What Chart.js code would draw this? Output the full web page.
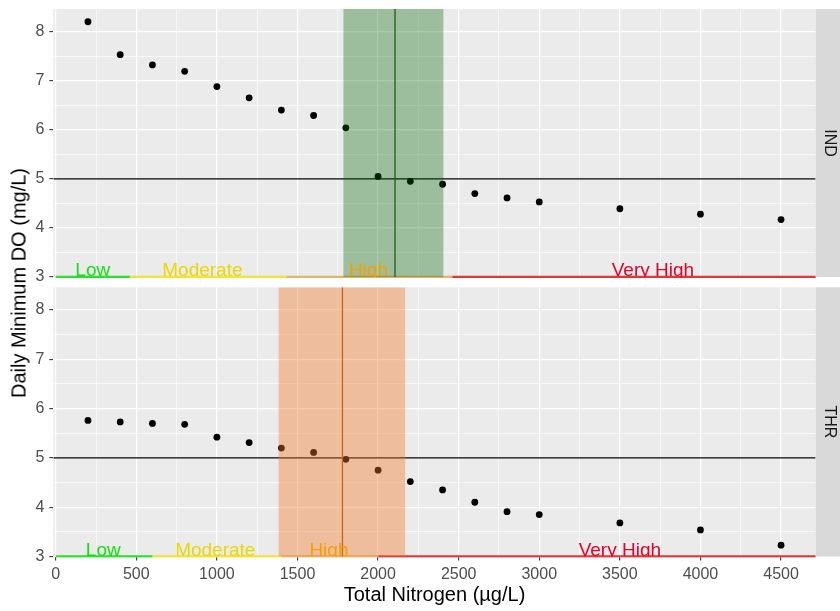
<!DOCTYPE html>
<html>
<head>
<meta charset="utf-8">
<title>Daily minimum DO vs total nitrogen</title>
<script src="https://cdn.jsdelivr.net/npm/chart.js@4.4.1/dist/chart.umd.min.js"></script>
<style>
  body { margin: 0; background: #fff; }
  #wrap { position: relative; width: 840px; height: 611px; }
  canvas { position: absolute; left: 0; }
  #topChart { top: 0; }
  #bottomChart { top: 282px; }
  #ytitle {
    position: absolute; left: 19px; top: 283px;
    transform: translate(-50%, -50%) rotate(-90deg);
    font: 20px "Liberation Sans", Arial, sans-serif;
    white-space: nowrap; color: #000;
  }
</style>
</head>
<body>
<div id="wrap">
  <canvas id="topChart" width="840" height="282"></canvas>
  <canvas id="bottomChart" width="840" height="329"></canvas>
  <div id="ytitle">Daily Minimum DO (mg/L)</div>
</div>
<script>
// total nitrogen levels (ug/L)
const nitrogen = [200, 400, 600, 800, 1000, 1200, 1400, 1600, 1800, 2000, 2200, 2400, 2600, 2800, 3000, 3500, 4000, 4500];
// daily minimum DO (mg/L) per site
const doInd = [8.20, 7.53, 7.32, 7.19, 6.88, 6.65, 6.40, 6.29, 6.04, 5.05, 4.95, 4.89, 4.70, 4.61, 4.53, 4.39, 4.28, 4.17];
const doThr = [5.76, 5.73, 5.70, 5.68, 5.42, 5.31, 5.20, 5.11, 4.97, 4.75, 4.52, 4.35, 4.10, 3.91, 3.85, 3.68, 3.54, 3.23];

const doStandard = 5;

// nitrogen class limits and where each class name sits
const classNames = ['Low', 'Moderate', 'High', 'Very High'];
const indBreaks = [0, 460, 1430, 2460, 4950];
const thrBreaks = [0, 600, 1400, 2000, 5000];
const indLabelAt = [230, 910, 1940, 3705];
const thrLabelAt = [295, 990, 1695, 3500];

// nitrogen range and estimate where DO crosses the standard
const indRange = [1785, 2405];
const indCross = 2105;
const thrRange = [1383, 2168];
const thrCross = 1779;

const xTickLabels = [0, 500, 1000, 1500, 2000, 2500, 3000, 3500, 4000, 4500];
const yTickLabels = [3, 4, 5, 6, 7, 8];
const xMin = -15, xMax = 4715;
const yMin = 3, yMax = 8.46;

const classText = ['#14e014', '#ead800', '#f5a000', '#e6002a'];
const classLine = ['#2ede2e', '#f2e23a', '#e2b46e', '#dc3a3a'];

Chart.defaults.font.family = '"Liberation Sans", Arial, sans-serif';

// majors plus the minor lines halfway between them
function withMinors(majors) {
  const out = [];
  majors.forEach((v, i) => {
    out.push(v);
    if (i < majors.length - 1) out.push((v + majors[i + 1]) / 2);
  });
  return out;
}
const xGrid = withMinors(xTickLabels);
const yGrid = withMinors(yTickLabels);

function panelPlugin(cfg) {
  return {
    id: 'panel',
    beforeDraw(chart) {
      const { ctx, chartArea: a } = chart;
      ctx.save();
      ctx.fillStyle = '#EBEBEB';
      ctx.fillRect(a.left, a.top, a.width, a.height);
      ctx.restore();
    },
    afterDatasetsDraw(chart) {
      const { ctx, chartArea: a, scales: { x, y } } = chart;
      ctx.save();
      ctx.beginPath();
      ctx.rect(a.left, a.top, a.width, a.height);
      ctx.clip();

      const x0 = x.getPixelForValue(cfg.range[0]);
      const x1 = x.getPixelForValue(cfg.range[1]);
      ctx.fillStyle = cfg.fill;
      ctx.fillRect(x0, a.top, x1 - x0, a.height);

      const xc = x.getPixelForValue(cfg.cross);
      ctx.strokeStyle = cfg.line;
      ctx.lineWidth = 1.3;
      ctx.beginPath();
      ctx.moveTo(xc, a.top);
      ctx.lineTo(xc, a.bottom);
      ctx.stroke();

      ctx.font = '19px "Liberation Sans", Arial, sans-serif';
      ctx.textAlign = 'center';
      ctx.textBaseline = 'alphabetic';
      const yb = y.getPixelForValue(yMin) - 1;
      cfg.labelAt.forEach((v, i) => {
        ctx.fillStyle = classText[i];
        ctx.fillText(classNames[i], x.getPixelForValue(v), yb);
      });
      ctx.restore();
    },
    afterDraw(chart) {
      const { ctx, chartArea: a } = chart;
      ctx.save();
      ctx.fillStyle = '#D9D9D9';
      ctx.fillRect(a.right, a.top, chart.width - a.right, a.height);
      ctx.translate(a.right + 13.5, (a.top + a.bottom) / 2);
      ctx.rotate(Math.PI / 2);
      ctx.fillStyle = '#1A1A1A';
      ctx.font = '16px "Liberation Sans", Arial, sans-serif';
      ctx.textAlign = 'center';
      ctx.textBaseline = 'middle';
      ctx.fillText(cfg.strip, 0, 0);
      ctx.restore();
    }
  };
}

function buildDatasets(values, breaks) {
  const sets = [{
    data: nitrogen.map((n, i) => ({ x: n, y: values[i] })),
    pointRadius: 3.4,
    pointBackgroundColor: '#000',
    pointBorderWidth: 0
  }, {
    data: [{ x: xMin, y: doStandard }, { x: xMax, y: doStandard }],
    showLine: true,
    borderColor: '#000',
    borderWidth: 1.2,
    pointRadius: 0
  }];
  classNames.forEach((name, i) => {
    sets.push({
      data: [{ x: breaks[i], y: yMin }, { x: breaks[i + 1], y: yMin }],
      showLine: true,
      borderColor: classLine[i],
      borderWidth: 2.4,
      pointRadius: 0,
      clip: { left: 0, top: 0, right: 0, bottom: 1 }
    });
  });
  return sets;
}

const tickFont = { size: 16 };
const isMajor = (list, v) => list.includes(v);

function buildScales(showX) {
  return {
    x: {
      type: 'linear',
      min: xMin,
      max: xMax,
      afterBuildTicks: s => { s.ticks = xGrid.map(v => ({ value: v })); },
      afterFit: s => {
        s.height = showX ? 54.5 : 0;
        s.paddingLeft = 0;
        s.paddingRight = 0;
      },
      border: { display: false },
      grid: {
        color: '#FFFFFF',
        lineWidth: c => (c.tick && isMajor(xTickLabels, c.tick.value)) ? 1.2 : 0.6,
        drawTicks: showX,
        tickLength: 4,
        tickWidth: 1.1,
        tickColor: c => (c.tick && isMajor(xTickLabels, c.tick.value)) ? '#333333' : 'rgba(0,0,0,0)'
      },
      ticks: {
        display: showX,
        autoSkip: false,
        maxRotation: 0,
        padding: 4,
        color: '#4D4D4D',
        font: tickFont,
        callback: v => isMajor(xTickLabels, v) ? String(v) : ''
      },
      title: {
        display: showX,
        text: 'Total Nitrogen (µg/L)',
        color: '#000',
        font: { size: 20 },
        padding: { top: 0, bottom: 4 }
      }
    },
    y: {
      type: 'linear',
      min: yMin,
      max: yMax,
      afterBuildTicks: s => { s.ticks = yGrid.map(v => ({ value: v })); },
      afterFit: s => {
        s.width = 53.3;
        s.paddingTop = 0;
        s.paddingBottom = 0;
      },
      border: { display: false },
      grid: {
        color: '#FFFFFF',
        lineWidth: c => (c.tick && isMajor(yTickLabels, c.tick.value)) ? 1.2 : 0.6,
        tickLength: 4,
        tickWidth: 1.1,
        tickColor: c => (c.tick && isMajor(yTickLabels, c.tick.value)) ? '#333333' : 'rgba(0,0,0,0)'
      },
      ticks: {
        autoSkip: false,
        padding: 5,
        color: '#4D4D4D',
        font: tickFont,
        callback: v => isMajor(yTickLabels, v) ? String(v) : ''
      }
    }
  };
}

function makePanel(id, values, breaks, cfg, showX, pad) {
  return new Chart(document.getElementById(id), {
    type: 'scatter',
    data: { datasets: buildDatasets(values, breaks) },
    options: {
      responsive: false,
      animation: false,
      layout: { padding: pad },
      plugins: { legend: { display: false }, tooltip: { enabled: false } },
      scales: buildScales(showX)
    },
    plugins: [panelPlugin(cfg)]
  });
}

makePanel('topChart', doInd, indBreaks, {
  range: indRange, cross: indCross, labelAt: indLabelAt, strip: 'IND',
  fill: 'rgba(0,100,0,0.33)', line: '#1c5c1c'
}, false, { top: 9, bottom: 5, left: 0, right: 24.3 });

makePanel('bottomChart', doThr, thrBreaks, {
  range: thrRange, cross: thrCross, labelAt: thrLabelAt, strip: 'THR',
  fill: 'rgba(240,120,40,0.4)', line: '#cc6420'
}, true, { top: 5.3, bottom: 0, left: 0, right: 24.3 });
</script>
</body>
</html>
